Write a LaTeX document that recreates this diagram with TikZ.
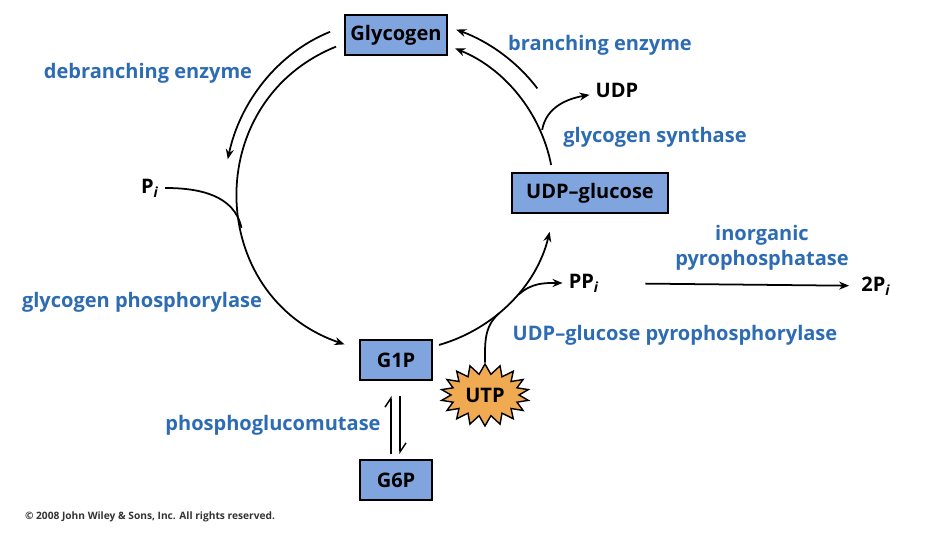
\documentclass[tikz,border=0pt]{standalone}
\usepackage{fontspec}
\setmainfont{Open Sans}
\usepackage{xcolor}
\usepackage{tikz}
\usetikzlibrary{arrows.meta,positioning,calc,shapes.symbols}

\definecolor{enzblue}{RGB}{45,108,178}
\definecolor{boxblue}{RGB}{128,164,222}
\definecolor{utporange}{RGB}{240,170,82}

\begin{document}
\begin{tikzpicture}[
  x=0.02cm, y=0.02cm,
  every node/.style={font=\fontsize{11.4}{13}\selectfont\bfseries},
  mol/.style={draw, line width=0.9pt, fill=boxblue, inner sep=2pt,
             minimum height=0.8cm},
  enz/.style={text=enzblue, align=center},
  burst/.style={draw, line width=0.8pt, starburst, fill=utporange,
             starburst points=18, starburst point height=0.2cm,
             random starburst=0, inner sep=1pt,
             minimum width=1.76cm, minimum height=1.24cm},
  arr/.style={-{Stealth[length=2mm,width=1.6mm]}, line width=1pt},
  ln/.style={line width=1pt},
  harp/.style={-{Straight Barb[left,length=1.8mm,width=2.4mm]}, line width=0.8pt},
]
\useasboundingbox (0,0) rectangle (932,546);

\node[mol, minimum width=2.04cm] (glyc) at (396,511) {Glycogen};
\node[mol, minimum width=3.12cm] (udpg) at (590,353) {UDP--glucose};
\node[mol, minimum width=1.44cm] (g1p)  at (396,186) {G1P};
\node[mol, minimum width=1.44cm] (g6p)  at (396,66)  {G6P};
\node[burst] (utp) at (485,151) {UTP};

\node (pi)    at (150,358) {P\textsubscript{\textit{i}}};
\node (udp)   at (617,456) {UDP};
\node (ppi)   at (584,263) {PP\textsubscript{\textit{i}}};
\node (twopi) at (876,260) {2P\textsubscript{\textit{i}}};

\node[enz] (brEnz)    at (600,501) {branching enzyme};
\node[enz] (debrEnz)  at (148,473) {debranching enzyme};
\node[enz] (synEnz)   at (655,409) {glycogen synthase};
\node[enz] (phosEnz)  at (142,244) {glycogen phosphorylase};
\node[enz, font=\fontsize{11.4}{14.5}\selectfont\bfseries]
           (ppaseEnz) at (762,298) {inorganic\\pyrophosphatase};
\node[enz] (ugpEnz)   at (675,211) {UDP--glucose pyrophosphorylase};
\node[enz] (pgmEnz)   at (273,121) {phosphoglucomutase};
\node[font=\fontsize{5.8}{6}\selectfont\bfseries, text=black!80]
           (copy) at (150,29) {© 2008 John Wiley \& Sons, Inc. All rights reserved.};

\coordinate (cyc)     at (396,351);
\coordinate (glyIn)   at ($(cyc)+(112:160)$);
\coordinate (g1pIn)   at ($(cyc)+(251:158)$);
\coordinate (glyOut)  at ($(cyc)+(112:176)$);
\coordinate (debr)    at ($(cyc)+(168:172)$);
\coordinate (piJoin)  at ($(cyc)+(192:158)$);
\coordinate (udpgTop) at ($(cyc)+(11:158)$);
\coordinate (glyR)    at ($(cyc)+(68:158)$);
\coordinate (brStart) at ($(cyc)+(37:177)$);
\coordinate (glyRo)   at ($(cyc)+(70:176)$);
\coordinate (udpJoin) at ($(cyc)+(24:160)$);
\coordinate (g1pR)    at ($(cyc)+(286:156)$);
\coordinate (udpgBot) at ($(cyc)+(346.5:158)$);
\coordinate (ppiJoin) at ($(cyc)+(321:158)$);
\coordinate (utpJoin) at ($(cyc)+(311:157)$);

\draw[arr] (glyIn) to[out=202, in=161, looseness=1.26] (g1pIn);
\draw[arr] (glyOut) to[out=202, in=78, looseness=0.9] (debr);
\draw[ln]  (pi) to[out=0, in=102] (piJoin);
\draw[arr] (udpgTop) to[out=101, in=-22, looseness=0.9] (glyR);
\draw[arr] (brStart) to[out=127, in=-20, looseness=0.87] (glyRo);
\draw[arr] (udpJoin) to[out=80, in=190] (udp);
\draw[arr] (g1pR) to[out=16, in=256.5, looseness=0.91] (udpgBot);
\draw[arr] (ppiJoin) to[out=42, in=180] (ppi);
\draw[ln]  (utp) to[out=90, in=221] (utpJoin);
\draw[arr, shorten <=0.8cm, shorten >=0.12cm] (ppi) -- (twopi);
\draw[harp, shorten <=0.1cm, shorten >=0.3cm]
  ([xshift=-0.1cm]g6p.north) -- ([xshift=-0.1cm]g1p.south);
\draw[harp, shorten <=0.3cm, shorten >=0.1cm]
  ([xshift=0.08cm]g1p.south) -- ([xshift=0.08cm]g6p.north);
\end{tikzpicture}
\end{document}
